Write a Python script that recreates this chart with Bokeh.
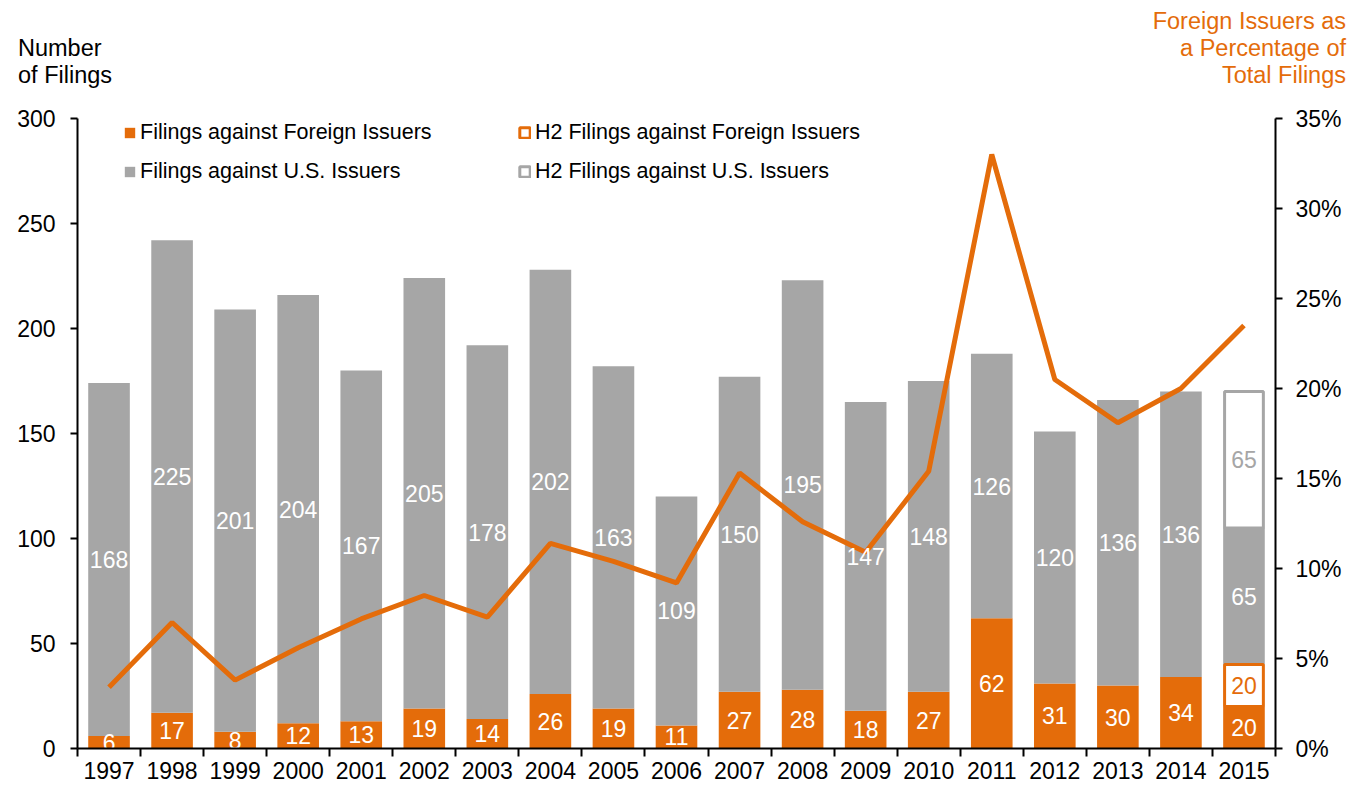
from bokeh.plotting import figure
from bokeh.layouts import column
from bokeh.models import (ColumnDataSource, Range1d, LinearAxis, FixedTicker, NumeralTickFormatter,
                          Legend, LegendItem, Div)
from bokeh.core.properties import value
from bokeh.embed import file_html
from bokeh.resources import INLINE

years = ["1997", "1998", "1999", "2000", "2001", "2002", "2003", "2004", "2005", "2006",
         "2007", "2008", "2009", "2010", "2011", "2012", "2013", "2014", "2015"]
foreign = [6, 17, 8, 12, 13, 19, 14, 26, 19, 11, 27, 28, 18, 27, 62, 31, 30, 34, 20]
us = [168, 225, 201, 204, 167, 205, 178, 202, 163, 109, 150, 195, 147, 148, 126, 120, 136, 136, 65]
h2_foreign = [0, 0, 0, 0, 0, 0, 0, 0, 0, 0, 0, 0, 0, 0, 0, 0, 0, 0, 20]
h2_us = [0, 0, 0, 0, 0, 0, 0, 0, 0, 0, 0, 0, 0, 0, 0, 0, 0, 0, 65]
pct = [3.4, 7.0, 3.8, 5.6, 7.2, 8.5, 7.3, 11.4, 10.4, 9.2, 15.3, 12.6, 10.9, 15.4, 33.0, 20.5, 18.1, 20.0, 23.5]
left_ticks = [0, 50, 100, 150, 200, 250, 300]
right_ticks = [0, 5, 10, 15, 20, 25, 30, 35]

ORANGE = "#E46C0A"
GRAY = "#A6A6A6"
FONT = "Liberation Sans"
FS = "23px"
FS_LEG = "21.5px"

n = len(years)
xs = list(range(n))
f_top = foreign
hf_bot = f_top
hf_top = [a + b for a, b in zip(hf_bot, h2_foreign)]
u_bot = hf_top
u_top = [a + b for a, b in zip(u_bot, us)]
hu_bot = u_top
hu_top = [a + b for a, b in zip(hu_bot, h2_us)]

src = ColumnDataSource(dict(
    x=xs, f_top=f_top, hf_bot=hf_bot, hf_top=hf_top, u_bot=u_bot, u_top=u_top,
    hu_bot=hu_bot, hu_top=hu_top, pct=[v / 100 for v in pct],
    f_lab=[str(v) for v in foreign], f_y=[v / 2 for v in f_top],
    u_lab=[str(v) for v in us], u_y=[(a + b) / 2 for a, b in zip(u_bot, u_top)],
))
h2i = [i for i in xs if h2_us[i] > 0]
src_h2 = ColumnDataSource(dict(
    x=[xs[i] for i in h2i],
    hf_bot=[hf_bot[i] for i in h2i], hf_top=[hf_top[i] for i in h2i],
    hu_bot=[hu_bot[i] for i in h2i], hu_top=[hu_top[i] for i in h2i],
    hf_lab=[str(h2_foreign[i]) for i in h2i], hf_y=[(hf_bot[i] + hf_top[i]) / 2 for i in h2i],
    hu_lab=[str(h2_us[i]) for i in h2i], hu_y=[(hu_bot[i] + hu_top[i]) / 2 for i in h2i],
))

DIV_H = 100
p = figure(width=1361, height=787 - DIV_H, output_backend="svg", toolbar_location=None,
           x_range=Range1d(-0.5, n - 0.5), y_range=Range1d(0, 300),
           min_border_left=77, min_border_right=86, min_border_top=118 - DIV_H, min_border_bottom=39)
p.extra_y_ranges = {"pct": Range1d(0, 0.35)}
p.xgrid.visible = False
p.ygrid.visible = False
p.outline_line_color = None

W = 0.66
r_f = p.vbar(x="x", bottom=0, top="f_top", width=W, source=src, fill_color=ORANGE, line_color=None)
r_u = p.vbar(x="x", bottom="u_bot", top="u_top", width=W, source=src, fill_color=GRAY, line_color=None)
r_hf = p.vbar(x="x", bottom="hf_bot", top="hf_top", width=W - 0.045, source=src_h2, fill_color="white",
              line_color=ORANGE, line_width=3)
r_hu = p.vbar(x="x", bottom="hu_bot", top="hu_top", width=W - 0.045, source=src_h2, fill_color="white",
              line_color=GRAY, line_width=3)

p.line(x="x", y="pct", source=src, y_range_name="pct", line_color=ORANGE, line_width=5)

common = dict(text_align="center", text_baseline="middle", text_font=value(FONT), text_font_size=FS)
p.text(x="x", y="f_y", text="f_lab", source=src, text_color="white", **common)
p.text(x="x", y="u_y", text="u_lab", source=src, text_color="white", **common)
p.text(x="x", y="hf_y", text="hf_lab", source=src_h2, text_color=ORANGE, **common)
p.text(x="x", y="hu_y", text="hu_lab", source=src_h2, text_color=GRAY, **common)

# x axis
xa = p.xaxis[0]
xa.ticker = FixedTicker(ticks=xs, minor_ticks=[i - 0.5 for i in range(n + 1)])
xa.major_label_overrides = {i: y for i, y in enumerate(years)}
xa.major_tick_line_color = None
xa.major_tick_out = 8
xa.major_tick_in = 0
xa.minor_tick_out = 8
xa.minor_tick_in = 0
xa.minor_tick_line_color = "black"
xa.minor_tick_line_width = 2
xa.axis_line_width = 2
xa.major_label_standoff = 5
xa.major_label_text_font = FONT
xa.major_label_text_font_size = FS
xa.major_label_text_color = "black"

ya = p.yaxis[0]
ya.ticker = FixedTicker(ticks=left_ticks, minor_ticks=[])
ya.major_tick_out = 7
ya.major_tick_in = 0
ya.major_tick_line_width = 2
ya.axis_line_width = 2
ya.major_label_standoff = 15
ya.major_label_text_font = FONT
ya.major_label_text_font_size = FS
ya.major_label_text_color = "black"

ra = LinearAxis(y_range_name="pct", ticker=FixedTicker(ticks=[v / 100 for v in right_ticks], minor_ticks=[]),
                formatter=NumeralTickFormatter(format="0%"))
ra.major_tick_out = 7
ra.major_tick_in = 0
ra.major_tick_line_width = 2
ra.axis_line_width = 2
ra.major_label_standoff = 13
ra.major_label_text_font = FONT
ra.major_label_text_font_size = FS
ra.major_label_text_color = "black"
p.add_layout(ra, "right")

def mk_legend(items, x, y):
    lg = Legend(items=items, location=(x, y), orientation="vertical")
    lg.background_fill_alpha = 0
    lg.border_line_color = None
    lg.padding = 0
    lg.margin = 0
    lg.spacing = 14
    lg.glyph_width = 13
    lg.glyph_height = 13
    lg.label_standoff = 4
    lg.label_height = 22
    lg.label_text_font = FONT
    lg.label_text_font_size = FS_LEG
    lg.label_text_color = "black"
    lg.label_text_baseline = "middle"
    p.add_layout(lg, "center")

mk_legend([LegendItem(label="Filings against Foreign Issuers", renderers=[r_f]),
           LegendItem(label="Filings against U.S. Issuers", renderers=[r_u])], 46, 564)
mk_legend([LegendItem(label="H2 Filings against Foreign Issuers", renderers=[r_hf]),
           LegendItem(label="H2 Filings against U.S. Issuers", renderers=[r_hu])], 441, 564)

html = (
    '<div style="position:relative;width:1361px;height:%dpx;font-family:\'Liberation Sans\',Arial,sans-serif;'
    'font-size:23.5px;line-height:27px;">'
    '<div style="position:absolute;left:18px;top:35px;color:#000000;">Number<br>of Filings</div>'
    '<div style="position:absolute;right:15px;top:8px;text-align:right;color:%s;">'
    'Foreign Issuers as<br>a Percentage of<br>Total Filings</div></div>' % (DIV_H, ORANGE)
)
header = Div(text=html, width=1361, height=DIV_H, margin=0)

layout = column(header, p, spacing=0)
open("out.html", "w").write(file_html(layout, INLINE))
